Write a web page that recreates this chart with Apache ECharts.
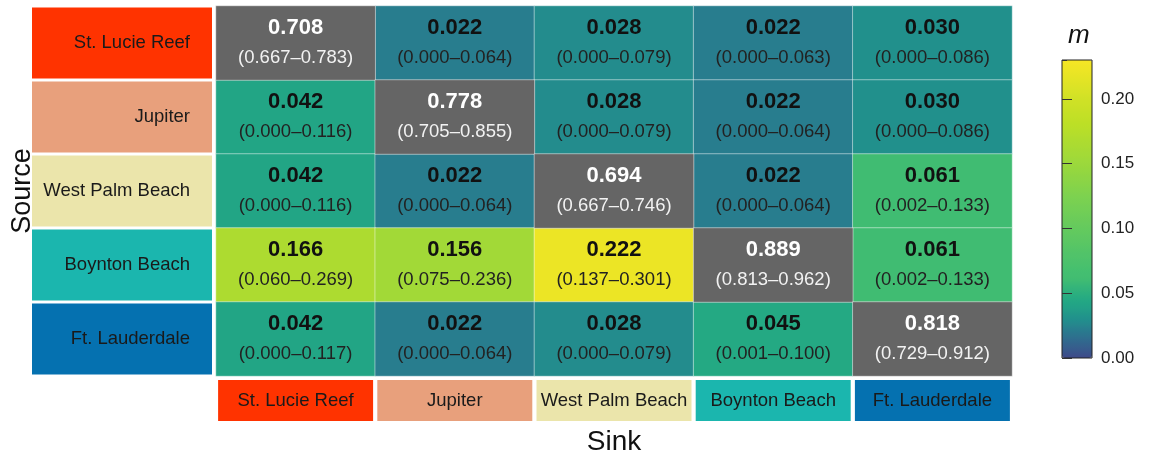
<!DOCTYPE html>
<html>
<head>
<meta charset="utf-8">
<script src="https://cdn.jsdelivr.net/npm/echarts@6/dist/echarts.min.js"></script>
<style>html,body{margin:0;padding:0;background:#fff;}#c{width:1155px;height:458px;}</style>
</head>
<body>
<div id="c"></div>
<script>
// ---- data ----
const sources = ['St. Lucie Reef', 'Jupiter', 'West Palm Beach', 'Boynton Beach', 'Ft. Lauderdale'];
const sinks = ['St. Lucie Reef', 'Jupiter', 'West Palm Beach', 'Boynton Beach', 'Ft. Lauderdale'];
const mValues = [
  [0.708, 0.022, 0.028, 0.022, 0.030],
  [0.042, 0.778, 0.028, 0.022, 0.030],
  [0.042, 0.022, 0.694, 0.022, 0.061],
  [0.166, 0.156, 0.222, 0.889, 0.061],
  [0.042, 0.022, 0.028, 0.045, 0.818]
];
const ciLow = [
  [0.667, 0.000, 0.000, 0.000, 0.000],
  [0.000, 0.705, 0.000, 0.000, 0.000],
  [0.000, 0.000, 0.667, 0.000, 0.002],
  [0.060, 0.075, 0.137, 0.813, 0.002],
  [0.000, 0.000, 0.000, 0.001, 0.729]
];
const ciHigh = [
  [0.783, 0.064, 0.079, 0.063, 0.086],
  [0.116, 0.855, 0.079, 0.064, 0.086],
  [0.116, 0.064, 0.746, 0.064, 0.133],
  [0.269, 0.236, 0.301, 0.962, 0.133],
  [0.117, 0.064, 0.079, 0.100, 0.912]
];
const colorbarMin = 0;
const colorbarMax = 0.23;
const colorbarInterval = 0.05;

// ---- styling ----
const siteColors = ['#ff3300', '#e8a07c', '#ebe5ab', '#1bb6ae', '#0571b0'];
const selfColor = '#656565';
const FONT = 'Liberation Sans, Arial, sans-serif';
const viridis = ['#440154','#482475','#414487','#355f8d','#2a788e','#21918c','#22a884','#44bf70','#7ad151','#bddf26','#fde725'];
// colour-scale warp (value -> position on viridis) as seen in the reference colourbar
const warpV = [0, 0.022, 0.028, 0.042, 0.05, 0.061, 0.10, 0.15, 0.20, 0.23];
const warpT = [0.22, 0.42, 0.48, 0.59, 0.63, 0.69, 0.76, 0.85, 0.93, 0.99];

function hex2rgb(h){return [parseInt(h.slice(1,3),16),parseInt(h.slice(3,5),16),parseInt(h.slice(5,7),16)];}
function viridisAt(t){
  t = Math.max(0, Math.min(1, t));
  const f = t * 10, i = Math.min(9, Math.floor(f)), r = f - i;
  const a = hex2rgb(viridis[i]), b = hex2rgb(viridis[i+1]);
  return 'rgb(' + a.map((x,k)=>Math.round(x + (b[k]-x)*r)).join(',') + ')';
}
function warp(v){
  for (let i = 0; i < warpV.length - 1; i++) {
    if (v <= warpV[i+1]) { const r = (v - warpV[i])/(warpV[i+1]-warpV[i]); return warpT[i] + (warpT[i+1]-warpT[i])*r; }
  }
  return warpT[warpT.length-1];
}
const rampColors = [];
for (let i = 0; i <= 92; i++) rampColors.push(viridisAt(warp(colorbarMax * i / 92)));

const offCells = [], selfCells = [];
mValues.forEach((row, i) => row.forEach((m, j) => (i === j ? selfCells : offCells).push([j, i, m, ciLow[i][j], ciHigh[i][j]])));

const yRich = {}, xRich = {};
siteColors.forEach((c, i) => {
  yRich['r'+i] = {backgroundColor: c, width: 158, height: 71, align: 'right', padding: [0, 22, 0, 0], fontSize: 18.5, color: '#1a1a1a', fontFamily: FONT};
  xRich['r'+i] = {backgroundColor: c, width: 155, height: 41, align: 'center', fontSize: 18.5, color: '#1a1a1a', fontFamily: FONT};
});

function cellLabel(white) {
  return {
    show: true,
    formatter: p => {
      const d = p.data;
      return '{v|' + d[2].toFixed(3) + '}\n{c|(' + d[3].toFixed(3) + '–' + d[4].toFixed(3) + ')}';
    },
    rich: {
      v: {fontSize: 22, fontWeight: 'bold', color: white ? '#ffffff' : '#111', lineHeight: 30, fontFamily: FONT},
      c: {fontSize: 18.5, color: white ? '#f2f2f2' : '#222', lineHeight: 30, fontFamily: FONT}
    }
  };
}

const tickStyle = {show: true, inside: false, length: 5, lineStyle: {color: '#333', width: 1}};

const chart = echarts.init(document.getElementById('c'), null, {renderer: 'canvas'});
chart.setOption({
  animation: false,
  backgroundColor: '#ffffff',
  title: {text: 'm', left: 1063, top: 18, textStyle: {fontStyle: 'italic', fontWeight: 'normal', fontSize: 26, color: '#111', fontFamily: FONT}},
  grid: [
    {left: 216, right: 143, top: 6, bottom: 82, outerBoundsMode: 'none', containLabel: false},
    {left: 1062, width: 30, top: 60, height: 298, show: true, borderColor: '#222', borderWidth: 1, backgroundColor: 'transparent', z: 6, outerBoundsMode: 'none', containLabel: false}
  ],
  xAxis: [
    {type: 'category', data: sinks, gridIndex: 0, position: 'bottom',
     axisLine: {show: false}, axisTick: {show: false}, splitLine: {show: false},
     axisLabel: {interval: 0, margin: 4, formatter: (v, i) => '{r' + i + '|' + v + '}', rich: xRich},
     name: 'Sink', nameLocation: 'middle', nameGap: 52, nameMoveOverlap: false,
     nameTextStyle: {fontSize: 28, color: '#111', fontFamily: FONT}},
    {type: 'value', gridIndex: 1, show: false, min: 0, max: 1}
  ],
  yAxis: [
    {type: 'category', data: sources, gridIndex: 0, inverse: true,
     axisLine: {show: false}, axisTick: {show: false}, splitLine: {show: false},
     axisLabel: {interval: 0, margin: 4, formatter: (v, i) => '{r' + i + '|' + v + '}', rich: yRich},
     name: 'Source', nameLocation: 'middle', nameGap: 180, nameMoveOverlap: false,
     nameTextStyle: {fontSize: 27, color: '#111', fontFamily: FONT}},
    {type: 'value', gridIndex: 1, position: 'right', offset: -5, min: colorbarMin, max: colorbarMax, interval: colorbarInterval, z: 8,
     axisLine: {show: false}, splitLine: {show: false}, axisTick: tickStyle,
     axisLabel: {showMaxLabel: false, margin: 14, fontSize: 17, color: '#222', fontFamily: FONT, formatter: v => v.toFixed(2)}},
    {type: 'value', gridIndex: 1, position: 'left', offset: -5, min: colorbarMin, max: colorbarMax, interval: colorbarInterval, z: 8,
     axisLine: {show: false}, splitLine: {show: false}, axisTick: tickStyle,
     axisLabel: {show: false}}
  ],
  visualMap: {
    type: 'continuous', seriesIndex: 0, dimension: 2, min: colorbarMin, max: colorbarMax, z: 1,
    calculable: false, left: 1062, top: 60, itemWidth: 30, itemHeight: 298, padding: 0,
    inRange: {color: rampColors}, text: null, showLabel: false
  },
  series: [{
    type: 'heatmap', xAxisIndex: 0, yAxisIndex: 0, data: offCells,
    itemStyle: {borderColor: 'rgba(255,255,255,0.45)', borderWidth: 1},
    emphasis: {disabled: true},
    label: cellLabel(false)
  }, {
    type: 'heatmap', xAxisIndex: 0, yAxisIndex: 0, data: selfCells,
    itemStyle: {color: selfColor, borderColor: 'rgba(255,255,255,0.45)', borderWidth: 1},
    emphasis: {disabled: true},
    label: cellLabel(true)
  }]
});
</script>
</body>
</html>
